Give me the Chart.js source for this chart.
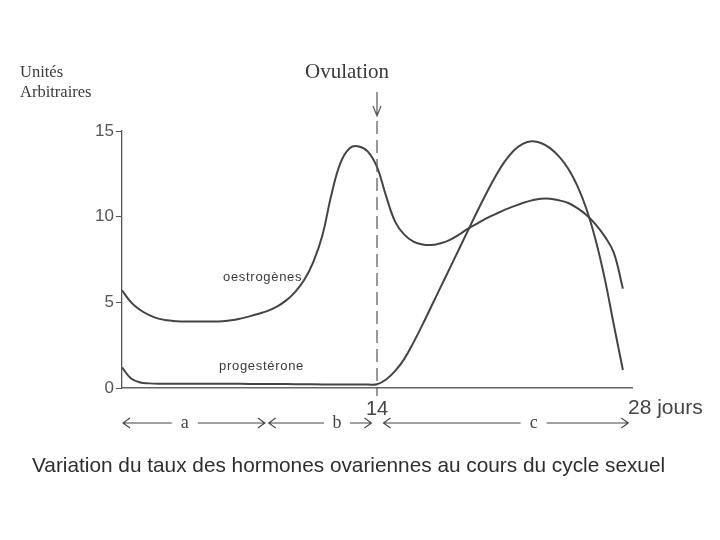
<!DOCTYPE html>
<html><head><meta charset="utf-8">
<script src="https://cdn.jsdelivr.net/npm/chart.js@4.4.1/dist/chart.umd.min.js"></script>
<style>html,body{margin:0;padding:0;background:#fff}canvas{display:block}</style>
</head><body>
<canvas id="c" width="720" height="540" style="width:720px;height:540px"></canvas>
<script>
// Data (day of cycle, arbitrary units)
const oestrogenDays = [0,0.5,1,1.5,2,2.5,3,3.5,4,4.5,5,5.5,6,6.5,7,7.5,8,8.5,9,9.5,10,10.5,11,11.5,12,12.5,13,13.5,14,14.5,15,15.5,16,16.5,17,17.5,18,18.5,19,19.5,20,20.5,21,21.5,22,22.5,23,23.5,24,24.5,25,25.5,26,26.5,27,27.5];
const oestrogenVals = [5.7,5.0,4.55,4.25,4.05,3.95,3.9,3.88,3.88,3.88,3.88,3.9,3.95,4.05,4.18,4.33,4.5,4.75,5.1,5.6,6.3,7.35,8.9,11.3,13.15,14.0,14.1,13.8,12.9,11.2,9.7,8.95,8.55,8.38,8.35,8.45,8.65,8.95,9.3,9.6,9.9,10.15,10.4,10.6,10.8,10.95,11.05,11.05,10.95,10.8,10.5,10.1,9.55,8.85,7.9,5.8];
const progDays = [0,0.5,1,1.5,2,3,4,5,6,7,8,9,10,11,12,13,13.5,14,14.5,15,15.5,16,16.5,17,17.5,18,18.5,19,19.5,20,20.5,21,21.5,22,22.5,23,23.5,24,24.5,25,25.5,26,26.5,27,27.5];
const progVals = [1.2,0.55,0.32,0.27,0.25,0.25,0.25,0.25,0.25,0.24,0.24,0.23,0.22,0.21,0.2,0.2,0.2,0.22,0.5,1.0,1.7,2.65,3.7,4.8,5.9,7.0,8.1,9.2,10.3,11.35,12.35,13.2,13.85,14.25,14.4,14.3,14.0,13.5,12.8,11.8,10.45,8.65,6.4,3.7,1.05];
const yTicks = [0,5,10,15];
const ovulationDay = 14;
const cycleEnd = 28;
const phaseLabels = ['a','b','c'];
const phaseFrom = [0,8,14.3];
const phaseTo = [7.9,13.75,27.85];
const phaseMid = [3.45,11.8,22.6];

const toXY = (xs, ys) => xs.map((x,i)=>({x, y: ys[i]}));

const annot = {
  id:'annot',
  afterDraw(chart){
    const {ctx, scales:{x,y}} = chart;
    ctx.save();
    const ink = '#3a3a3a';
    // ovulation dashed line
    const ox = x.getPixelForValue(ovulationDay);
    ctx.strokeStyle = '#555'; ctx.lineWidth = 1.2;
    ctx.setLineDash([13,6]);
    ctx.beginPath(); ctx.moveTo(ox, 121); ctx.lineTo(ox, y.getPixelForValue(0)+8); ctx.stroke();
    ctx.setLineDash([]);
    // arrow
    ctx.beginPath(); ctx.moveTo(ox, 92); ctx.lineTo(ox, 116);
    ctx.moveTo(ox-4, 106); ctx.lineTo(ox, 116); ctx.lineTo(ox+4, 106); ctx.stroke();
    // texts
    ctx.fillStyle = ink;
    ctx.font = '21px "Liberation Serif", serif';
    ctx.textAlign = 'center'; ctx.textBaseline = 'alphabetic';
    ctx.fillText('Ovulation', 347, 78);
    ctx.font = '16.5px "Liberation Serif", serif';
    ctx.textAlign = 'left';
    ctx.fillText('Unités', 20, 77);
    ctx.fillText('Arbitraires', 20, 97);
    // curve labels
    ctx.font = '13px "Liberation Sans", Arial, sans-serif';
    ctx.letterSpacing = '0.7px';
    ctx.fillText('oestrogènes', 223, 281);
    ctx.fillText('progestérone', 219, 370);
    ctx.letterSpacing = '0px';
    // x labels
    ctx.font = '20px "Liberation Sans", Arial, sans-serif';
    ctx.fillStyle = '#444';
    ctx.textAlign = 'center';
    ctx.fillText(String(ovulationDay), ox, 415);
    ctx.font = '21px "Liberation Sans", Arial, sans-serif';
    ctx.textAlign = 'left';
    ctx.fillText(cycleEnd + ' jours', x.getPixelForValue(cycleEnd) - 4, 414);
    // phase arrows
    const ay = 423;
    ctx.strokeStyle = '#444'; ctx.lineWidth = 1.1;
    ctx.font = '18px "Liberation Serif", serif';
    phaseLabels.forEach((lab, i) => {
      const x0 = x.getPixelForValue(phaseFrom[i]) + 1, x1 = x.getPixelForValue(phaseTo[i]) - 1;
      const mid = x.getPixelForValue(phaseMid[i]);
      const tw = 13;
      ctx.beginPath();
      ctx.moveTo(x0, ay); ctx.lineTo(mid - tw, ay);
      ctx.moveTo(mid + tw, ay); ctx.lineTo(x1, ay);
      ctx.moveTo(x0 + 7, ay - 5); ctx.lineTo(x0, ay); ctx.lineTo(x0 + 7, ay + 5);
      ctx.moveTo(x1 - 7, ay - 5); ctx.lineTo(x1, ay); ctx.lineTo(x1 - 7, ay + 5);
      ctx.stroke();
      ctx.textAlign = 'center';
      ctx.fillText(lab, mid, ay + 5);
    });
    // caption
    ctx.font = '20.8px "Liberation Sans", Arial, sans-serif';
    ctx.fillStyle = '#2e2e2e';
    ctx.textAlign = 'left';
    ctx.fillText('Variation du taux des hormones ovariennes au cours du cycle sexuel', 32, 472);
    ctx.restore();
  }
};

new Chart(document.getElementById('c'), {
  type: 'line',
  data: {
    datasets: [
      {label:'oestrogènes', data: toXY(oestrogenDays, oestrogenVals), borderColor:'#444', borderWidth:2, pointRadius:0, tension:0.4, fill:false},
      {label:'progestérone', data: toXY(progDays, progVals), borderColor:'#444', borderWidth:2, pointRadius:0, tension:0.4, fill:false}
    ]
  },
  options: {
    responsive:false, animation:false,
    layout:{padding:{left:0, top:131, right:88, bottom:152}},
    plugins:{legend:{display:false}, tooltip:{enabled:false}},
    scales:{
      x:{type:'linear', min:0, max:cycleEnd,
         ticks:{display:false}, grid:{display:false},
         border:{display:true, color:'#666', width:1.5},
         afterFit(s){ s.height = 0; }},
      y:{min:0, max:15,
         afterBuildTicks(s){ s.ticks = yTicks.map(v=>({value:v})); },
         ticks:{font:{family:'"Liberation Sans", Arial, sans-serif', size:17}, color:'#555', padding:2},
         grid:{drawOnChartArea:false, tickLength:6, color:'#555'},
         border:{display:true, color:'#555', width:1.3},
         afterFit(s){ s.width = 122; }}
    }
  },
  plugins:[annot]
});
</script>
</body></html>
